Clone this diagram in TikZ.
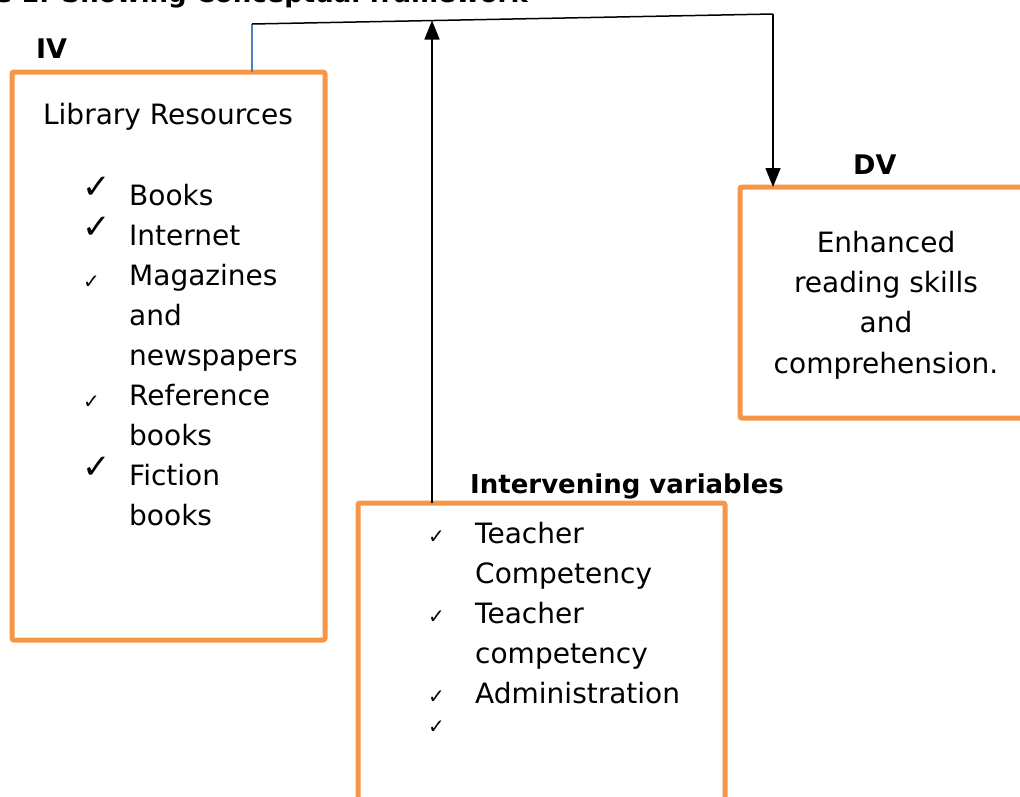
\documentclass[tikz,border=0pt]{standalone}
\usepackage{fontspec}
\setmainfont{DejaVu Sans}
\usetikzlibrary{arrows.meta}
\definecolor{boxorange}{HTML}{F79646}
\definecolor{lineblue}{HTML}{4F81BD}
\tikzset{
  frame/.style={draw=boxorange, line width=5pt, rounded corners=2pt, inner sep=0pt, outer sep=0pt},
  body/.style={font=\fontsize{28}{40}\selectfont, inner sep=0pt, anchor=base west},
  centred/.style={font=\fontsize{28}{40}\selectfont, inner sep=0pt, anchor=base},
  head/.style={font=\fontsize{27}{32}\selectfont\bfseries, inner sep=0pt, anchor=base west},
  bigcheck/.style={font=\fontsize{34}{36}\selectfont, inner sep=0pt, anchor=base west},
  smallcheck/.style={font=\fontsize{20}{22}\selectfont, inner sep=0pt, anchor=base west},
  conn/.style={draw=black, line width=1.5pt},
  arr/.style={conn, -{Triangle[length=19pt,width=15pt]}},
  feed/.style={draw=lineblue, line width=1.2pt},
}
\begin{document}
\begin{tikzpicture}[x=1pt, y=-1pt]
\useasboundingbox (0,0) rectangle (1020,796);
\clip (0,0) rectangle (1020,796);

% title (cut off by the top edge, as in the reference)
\node[head, font=\fontsize{26}{32}\selectfont\bfseries, anchor=base east] (title) at (528,2) {Figure 1: Showing Conceptual framework};

% boxes
\node[frame, minimum width=313pt, minimum height=568pt] (lib) at (168.5,356) {};
\node[frame, minimum width=292pt, minimum height=231pt] (dv) at (886,302.5) {};
\node[frame, minimum width=367pt, minimum height=320pt] (inter) at (541.5,663) {};

% labels
\node[head] (ivlab) at (36,58) {IV};
\node[head] (dvlab) at (853,174) {DV};
\node[head, font=\fontsize{26}{32}\selectfont\bfseries] (intlab) at (470,493) {Intervening variables};

% library resources
\node[centred] (libtitle) at (168,124) {Library Resources};
\foreach \t [count=\i] in {Books, Internet, Magazines, and, newspapers, Reference, books, Fiction, books}
  \node[body] (lt\i) at (129,165+40*\i) {\t};
\node[bigcheck] (lc1) at (82,198) {✓};
\node[bigcheck] (lc2) at (82,238) {✓};
\node[smallcheck] (lc3) at (83,288) {✓};
\node[smallcheck] (lc4) at (83,408) {✓};
\node[bigcheck] (lc5) at (82,478) {✓};

% dependent variable
\node[centred] (d1) at (886,252) {Enhanced};
\node[centred] (d2) at (886,292) {reading skills};
\node[centred] (d3) at (886,332) {and};
\node[centred] (d4) at (886,373) {comprehension.};

% intervening variables
\foreach \t [count=\i] in {Teacher, Competency, Teacher, competency, Administration}
  \node[body] (it\i) at (475,503+40*\i) {\t};
\node[smallcheck] (ic1) at (428,543) {✓};
\node[smallcheck] (ic2) at (428,623) {✓};
\node[smallcheck] (ic3) at (428,703) {✓};
\node[smallcheck] (ic4) at (428,733) {✓};

% connectors
\coordinate (c1) at (252,24);
\coordinate (c2) at (773,14);
\coordinate (c3) at (432,20.5);
\draw[feed] (lib.north -| c1) -- (c1);
\draw[conn] (c1) -- (c2);
\draw[arr] (c2) -- (c2 |- dv.north);
\draw[arr] (inter.north -| c3) -- (c3);
\end{tikzpicture}
\end{document}
